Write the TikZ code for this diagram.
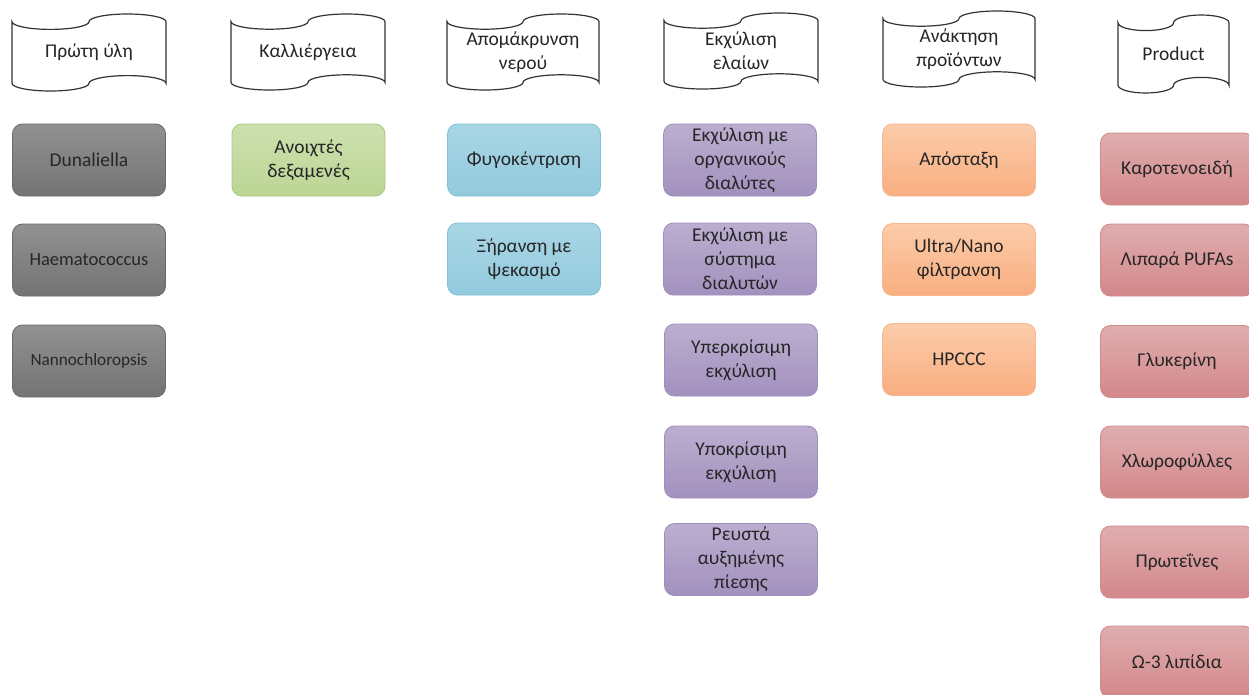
\documentclass[tikz,border=0pt]{standalone}
\usepackage{fontspec}
\setmainfont{Carlito}
\usetikzlibrary{shadings}

\definecolor{inkc}{HTML}{262626}
\definecolor{tapec}{HTML}{333333}
% box palettes: top / bottom / border
\definecolor{grayT}{HTML}{919191}\definecolor{grayB}{HTML}{747474}\definecolor{grayD}{HTML}{6A6A6A}
\definecolor{grnT}{HTML}{CCE0AE}\definecolor{grnB}{HTML}{BCD595}\definecolor{grnD}{HTML}{A9CB7E}
\definecolor{bluT}{HTML}{A8D6E5}\definecolor{bluB}{HTML}{92CADD}\definecolor{bluD}{HTML}{82C1D6}
\definecolor{purT}{HTML}{BCAED0}\definecolor{purB}{HTML}{A291BE}\definecolor{purD}{HTML}{A08EBE}
\definecolor{orgT}{HTML}{FCCCAA}\definecolor{orgB}{HTML}{F9AE80}\definecolor{orgD}{HTML}{F7B891}
\definecolor{redT}{HTML}{E0AEAF}\definecolor{redB}{HTML}{D3878A}\definecolor{redD}{HTML}{D08B8D}

\tikzset{
  x=1pt, y=1pt,
  txt/.style={font=\fontsize{19.5}{24}\selectfont, text=inkc, align=center},
  tapeline/.style={draw=tapec, line width=1.2pt, fill=white},
  card/.style={txt, rectangle, rounded corners=10pt, minimum width=153pt,
    minimum height=72pt, inner sep=0pt, line width=0.9pt},
  graycard/.style={card, top color=grayT, bottom color=grayB, draw=grayD},
  greencard/.style={card, top color=grnT, bottom color=grnB, draw=grnD},
  bluecard/.style={card, top color=bluT, bottom color=bluB, draw=bluD},
  purplecard/.style={card, top color=purT, bottom color=purB, draw=purD},
  orangecard/.style={card, top color=orgT, bottom color=orgB, draw=orgD},
  redcard/.style={card, top color=redT, bottom color=redB, draw=redD},
}

% punched-tape heading: name, left x, top y, width, height, text
\newcommand\tapehead[6]{%
  \draw[tapeline] (#2,{-(#3)-(#5)/10})
    arc[start angle=180, end angle=360, x radius={(#4)/4}, y radius={(#5)/10}]
    arc[start angle=180, end angle=0,   x radius={(#4)/4}, y radius={(#5)/10}]
    -- ++(0,{-0.8*(#5)})
    arc[start angle=0, end angle=180,  x radius={(#4)/4}, y radius={(#5)/10}]
    arc[start angle=0, end angle=-180, x radius={(#4)/4}, y radius={(#5)/10}]
    -- cycle;
  \node[txt] (#1) at ({#2+(#4)/2},{-(#3)-(#5)/2}) {#6};
}

\begin{document}
\begin{tikzpicture}
\useasboundingbox[fill=white] (0,0) rectangle (1249,-694);
\begin{scope}
\clip (0,0) rectangle (1249,-694);

% headings
\tapehead{h1}{12}{14}{154}{77}{Πρώτη ύλη}
\tapehead{h2}{231}{14}{154}{76}{Καλλιέργεια}
\tapehead{h3}{447}{14}{152}{76}{Απομάκρυνση\\νερού}
\tapehead{h4}{664}{13}{154}{76}{Εκχύλιση\\ελαίων}
\tapehead{h5}{883}{11}{152}{76}{Ανάκτηση\\προϊόντων}
\tapehead{h6}{1118}{15}{111}{78}{Product}

% raw material
\node[graycard] (d1) at (89,-160) {Dunaliella};
\node[graycard, font=\fontsize{18.5}{24}\selectfont] (d2) at (89,-260) {Haematococcus};
\node[graycard, font=\fontsize{17.2}{24}\selectfont] (d3) at (89,-361) {Nannochloropsis};

% cultivation
\node[greencard] (c1) at (308.5,-160) {Ανοιχτές\\δεξαμενές};

% dewatering
\node[bluecard] (w1) at (524,-160) {Φυγοκέντριση};
\node[bluecard] (w2) at (524,-259) {Ξήρανση με\\ψεκασμό};

% oil extraction
\node[purplecard] (e1) at (740,-160) {Εκχύλιση με\\οργανικούς\\διαλύτες};
\node[purplecard] (e2) at (740,-259) {Εκχύλιση με\\σύστημα\\διαλυτών};
\node[purplecard] (e3) at (741,-360) {Υπερκρίσιμη\\εκχύλιση};
\node[purplecard] (e4) at (741,-462) {Υποκρίσιμη\\εκχύλιση};
\node[purplecard] (e5) at (741,-559.5) {Ρευστά\\αυξημένης\\πίεσης};

% recovery
\node[orangecard] (r1) at (959,-160) {Απόσταξη};
\node[orangecard] (r2) at (959,-259.5) {Ultra/Nano\\φίλτρανση};
\node[orangecard] (r3) at (959,-359.5) {HPCCC};

% products
\node[redcard] (p1) at (1177,-169) {Καροτενοειδή};
\node[redcard] (p2) at (1177,-260) {Λιπαρά PUFAs};
\node[redcard] (p3) at (1177,-361.5) {Γλυκερίνη};
\node[redcard] (p4) at (1177,-462) {Χλωροφύλλες};
\node[redcard] (p5) at (1177,-562) {Πρωτεΐνες};
\node[redcard] (p6) at (1177,-662) {Ω-3 λιπίδια};
\end{scope}
\end{tikzpicture}
\end{document}
